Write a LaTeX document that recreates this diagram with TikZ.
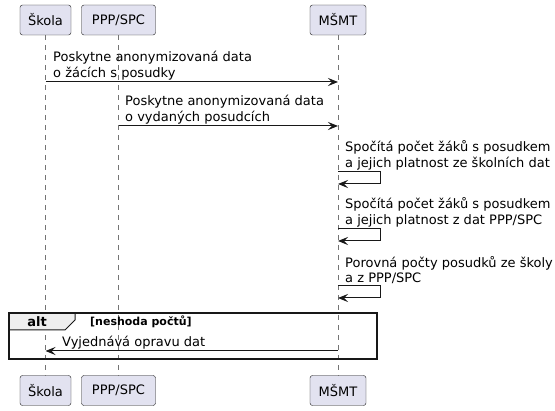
\documentclass[tikz,border=0pt]{standalone}
\usepackage{fontspec}
\setmainfont{DejaVu Sans}
\usetikzlibrary{arrows.meta,positioning}
\definecolor{partfill}{HTML}{E2E2F0}
\definecolor{linegray}{HTML}{181818}
\definecolor{altfill}{HTML}{EEEEEE}
\tikzset{
  part/.style={draw=linegray, fill=partfill, rounded corners=2.5pt, minimum height=30pt, inner sep=0pt, font=\fontsize{13}{15}\selectfont},
  lifeline/.style={draw=linegray!60, dash pattern=on 5pt off 5pt, line width=0.6pt},
  msg/.style={draw=linegray, line width=1pt, -{Stealth[length=10pt,width=8pt,inset=4pt]}},
  msgtext/.style={anchor=south west, inner sep=0pt, align=left, font=\fontsize{13}{15.2}\selectfont},
}
\begin{document}
\begin{tikzpicture}[x=1pt,y=-1pt]
\useasboundingbox (0,0) rectangle (555,411);
%participants top and bottom
\node[part, minimum width=51pt] (skola) at (45.5,20) {Škola}; \node[part, minimum width=74pt] (ppp) at (118.5,20) {PPP/SPC}; \node[part, minimum width=56pt] (msmt) at (338,20) {MŠMT};
\node[part, minimum width=51pt] (skolab) at (45.5,390.5) {Škola}; \node[part, minimum width=74pt] (pppb) at (118.5,390.5) {PPP/SPC}; \node[part, minimum width=56pt] (msmtb) at (338,390.5) {MŠMT};
%lifelines
\draw[lifeline] (skola) -- (skolab); \draw[lifeline] (ppp) -- (pppb); \draw[lifeline] (msmt) -- (msmtb);
%data from the school
\coordinate (m1a) at (45.5,82); \coordinate (m1b) at (338,82); \draw[msg] (m1a) -- (m1b);
\node[msgtext] (t1) at (53,80) {Poskytne anonymizovaná data\\o žácích s posudky};
%data from PPP/SPC
\coordinate (m2a) at (118.5,126); \coordinate (m2b) at (338,126); \draw[msg] (m2a) -- (m2b);
\node[msgtext] (t2) at (125,124) {Poskytne anonymizovaná data\\o vydaných posudcích};
%self messages of MSMT
\coordinate (s1a) at (338,172); \coordinate (s1b) at (338,184); \draw[msg] (s1a) -- ++(42,0) |- (s1b);
\node[msgtext] (t3) at (345,170) {Spočítá počet žáků s posudkem\\a jejich platnost ze školních dat};
\coordinate (s2a) at (338,229); \coordinate (s2b) at (338,241); \draw[msg] (s2a) -- ++(42,0) |- (s2b);
\node[msgtext] (t4) at (345,227) {Spočítá počet žáků s posudkem\\a jejich platnost z dat PPP/SPC};
\coordinate (s3a) at (338,286); \coordinate (s3b) at (338,298); \draw[msg] (s3a) -- ++(42,0) |- (s3b);
\node[msgtext] (t5) at (345,284) {Porovná počty posudků ze školy\\a z PPP/SPC};
%alt fragment
\draw[fill=altfill, draw=linegray, line width=1pt] (9,313) -- (75,313) -- (75,320) -- (65,330) -- (9,330) -- cycle;
\draw[draw=linegray, line width=1.5pt] (9,313) rectangle (377,359);
\node[inner sep=0pt, font=\bfseries\fontsize{13}{15}\selectfont] (alt) at (37,321.5) {alt};
\node[anchor=west, inner sep=0pt, font=\bfseries\fontsize{11}{13}\selectfont] (guard) at (90,322) {[neshoda počtů]};
\coordinate (m3a) at (338,351); \coordinate (m3b) at (45.5,351); \draw[msg] (m3a) -- (m3b);
\node[msgtext] (t6) at (62,349) {Vyjednává opravu dat};
\end{tikzpicture}
\end{document}
